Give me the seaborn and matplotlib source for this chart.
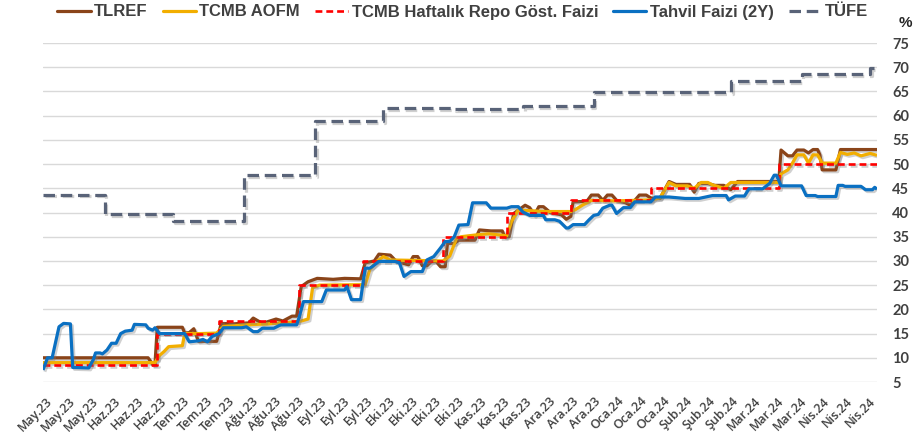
import pandas as pd
import matplotlib
matplotlib.use("Agg")
import matplotlib.pyplot as plt
import matplotlib.patheffects as pe
from matplotlib.lines import Line2D
from matplotlib.transforms import ScaledTranslation
import seaborn as sns

# ---- data -------------------------------------------------------------
tlref_dates = [
    "2023-05-04", "2023-06-19", "2023-06-21", "2023-06-22", "2023-06-23", "2023-07-04",
    "2023-07-05", "2023-07-07", "2023-07-09", "2023-07-11", "2023-07-19", "2023-07-21",
    "2023-07-26", "2023-08-02", "2023-08-04", "2023-08-08", "2023-08-14", "2023-08-17",
    "2023-08-21", "2023-08-23", "2023-08-25", "2023-08-28", "2023-09-01", "2023-09-08",
    "2023-09-13", "2023-09-20", "2023-09-22", "2023-09-26", "2023-09-28", "2023-10-03",
    "2023-10-05", "2023-10-08", "2023-10-11", "2023-10-13", "2023-10-15", "2023-10-17",
    "2023-10-19", "2023-10-21", "2023-10-23", "2023-10-25", "2023-10-27", "2023-10-28",
    "2023-10-31", "2023-11-02", "2023-11-09", "2023-11-11", "2023-11-16", "2023-11-21",
    "2023-11-22", "2023-11-24", "2023-11-26", "2023-12-01", "2023-12-03", "2023-12-05",
    "2023-12-07", "2023-12-09", "2023-12-12", "2023-12-17", "2023-12-19", "2023-12-21",
    "2023-12-22", "2023-12-28", "2023-12-30", "2024-01-02", "2024-01-04", "2024-01-06",
    "2024-01-08", "2024-01-10", "2024-01-14", "2024-01-16", "2024-01-18", "2024-01-20",
    "2024-01-23", "2024-01-25", "2024-01-29", "2024-02-02", "2024-02-05", "2024-02-11",
    "2024-02-13", "2024-02-15", "2024-02-19", "2024-02-22", "2024-02-26", "2024-02-29",
    "2024-03-03", "2024-03-21", "2024-03-22", "2024-03-25", "2024-03-27", "2024-03-29",
    "2024-04-01", "2024-04-03", "2024-04-05", "2024-04-07", "2024-04-08", "2024-04-09",
    "2024-04-15", "2024-04-17", "2024-05-03",
]
tlref_values = [
    10.0, 10.0, 8.6, 8.6, 16.3, 16.3,
    15.1, 15.2, 16.0, 13.4, 13.4, 17.1,
    17.0, 17.2, 18.2, 17.1, 18.0, 17.6,
    18.6, 18.6, 24.7, 25.7, 26.4, 26.2,
    26.4, 26.3, 29.6, 30.0, 31.4, 31.2,
    30.2, 29.6, 29.2, 30.9, 30.9, 29.0,
    29.0, 29.9, 29.9, 28.8, 28.8, 33.6,
    33.6, 34.3, 34.3, 36.4, 36.2, 36.2,
    35.0, 35.0, 39.8, 41.5, 41.0, 39.4,
    41.2, 41.2, 40.0, 39.5, 38.6, 39.2,
    42.2, 42.3, 43.6, 43.6, 42.5, 43.6,
    43.6, 42.5, 42.0, 41.5, 42.5, 43.6,
    43.6, 43.0, 42.9, 46.4, 45.8, 45.8,
    44.2, 46.0, 46.0, 45.6, 45.6, 44.7,
    46.4, 46.4, 52.9, 51.7, 51.7, 52.9,
    52.9, 52.3, 53.0, 53.0, 51.9, 48.8,
    48.8, 53.0, 53.0,
]

aofm_dates = [
    "2023-05-04", "2023-06-22", "2023-06-24", "2023-06-26", "2023-06-28", "2023-07-04",
    "2023-07-05", "2023-07-12", "2023-07-19", "2023-07-22", "2023-08-01", "2023-08-10",
    "2023-08-20", "2023-08-25", "2023-08-28", "2023-08-30", "2023-09-02", "2023-09-22",
    "2023-09-24", "2023-09-27", "2023-09-30", "2023-10-03", "2023-10-26", "2023-10-29",
    "2023-11-01", "2023-11-03", "2023-11-10", "2023-11-15", "2023-11-23", "2023-11-25",
    "2023-11-28", "2023-12-10", "2023-12-21", "2023-12-23", "2023-12-26", "2023-12-30",
    "2024-01-10", "2024-01-25", "2024-01-29", "2024-02-02", "2024-02-05", "2024-02-10",
    "2024-02-13", "2024-02-16", "2024-02-19", "2024-02-21", "2024-02-26", "2024-02-29",
    "2024-03-21", "2024-03-22", "2024-03-25", "2024-03-27", "2024-03-29", "2024-04-01",
    "2024-04-03", "2024-04-05", "2024-04-07", "2024-04-09", "2024-04-15", "2024-04-17",
    "2024-04-20", "2024-04-23", "2024-04-26", "2024-04-30", "2024-05-03",
]
aofm_values = [
    9.0, 9.0, 10.5, 11.3, 12.3, 12.5,
    15.0, 15.0, 15.1, 16.5, 16.8, 17.0,
    17.3, 17.6, 18.0, 24.5, 25.0, 25.1,
    28.2, 29.9, 30.9, 30.2, 30.0, 31.0,
    34.7, 35.0, 35.4, 35.6, 35.2, 38.1,
    40.5, 40.2, 40.2, 40.6, 41.5, 42.5,
    42.4, 42.6, 43.0, 46.2, 45.5, 45.5,
    45.0, 46.2, 46.2, 45.7, 45.0, 46.2,
    46.2, 48.0, 48.8, 50.2, 51.9, 51.9,
    50.2, 51.9, 51.9, 50.2, 50.2, 52.4,
    52.0, 52.3, 51.7, 52.2, 51.8,
]

repo_dates = [
    "2023-05-04", "2023-06-23", "2023-07-20", "2023-08-24", "2023-09-21", "2023-10-26",
    "2023-11-23", "2023-12-21", "2024-01-25", "2024-03-21", "2024-05-03",
]
repo_values = [8.5, 15.0, 17.5, 25.0, 30.0, 35.0, 40.0, 42.5, 45.0, 50.0, 50.0]

bond_dates = [
    "2023-05-04", "2023-05-06", "2023-05-08", "2023-05-11", "2023-05-13", "2023-05-16",
    "2023-05-17", "2023-05-24", "2023-05-26", "2023-05-27", "2023-05-29", "2023-05-30",
    "2023-06-01", "2023-06-03", "2023-06-05", "2023-06-07", "2023-06-09", "2023-06-12",
    "2023-06-13", "2023-06-18", "2023-06-19", "2023-06-21", "2023-06-22", "2023-06-24",
    "2023-07-05", "2023-07-07", "2023-07-11", "2023-07-13", "2023-07-15", "2023-07-17",
    "2023-07-20", "2023-07-22", "2023-07-30", "2023-08-01", "2023-08-04", "2023-08-06",
    "2023-08-08", "2023-08-13", "2023-08-16", "2023-08-23", "2023-08-24", "2023-08-26",
    "2023-09-03", "2023-09-05", "2023-09-13", "2023-09-14", "2023-09-16", "2023-09-20",
    "2023-09-22", "2023-09-24", "2023-09-25", "2023-09-28", "2023-10-05", "2023-10-07",
    "2023-10-09", "2023-10-12", "2023-10-17", "2023-10-19", "2023-10-22", "2023-10-25",
    "2023-10-27", "2023-10-29", "2023-10-31", "2023-11-02", "2023-11-06", "2023-11-08",
    "2023-11-14", "2023-11-16", "2023-11-23", "2023-11-25", "2023-11-28", "2023-11-30",
    "2023-12-03", "2023-12-09", "2023-12-10", "2023-12-14", "2023-12-16", "2023-12-19",
    "2023-12-20", "2023-12-22", "2023-12-27", "2023-12-29", "2023-12-31", "2024-01-02",
    "2024-01-04", "2024-01-07", "2024-01-08", "2024-01-10", "2024-01-13", "2024-01-16",
    "2024-01-18", "2024-01-25", "2024-01-27", "2024-02-02", "2024-02-09", "2024-02-15",
    "2024-02-21", "2024-02-27", "2024-02-28", "2024-03-02", "2024-03-06", "2024-03-08",
    "2024-03-14", "2024-03-17", "2024-03-19", "2024-03-20", "2024-03-22", "2024-03-31",
    "2024-04-02", "2024-04-06", "2024-04-07", "2024-04-15", "2024-04-16", "2024-04-18",
    "2024-04-19", "2024-04-26", "2024-04-28", "2024-05-01", "2024-05-02", "2024-05-03",
]
bond_values = [
    7.5, 10.0, 10.0, 16.4, 17.1, 17.0,
    8.0, 7.9, 9.6, 11.0, 11.0, 10.8,
    11.6, 13.0, 13.0, 15.0, 15.5, 15.7,
    16.9, 16.8, 16.1, 15.7, 16.2, 15.0,
    15.0, 13.3, 13.5, 13.8, 13.3, 14.4,
    15.0, 16.2, 16.2, 16.4, 15.4, 15.4,
    16.1, 16.1, 16.8, 16.8, 18.2, 21.6,
    21.6, 24.0, 24.0, 24.7, 22.0, 22.0,
    28.5, 28.5, 28.8, 29.9, 29.9, 29.6,
    26.8, 27.8, 27.8, 30.2, 30.9, 32.7,
    34.0, 34.0, 35.0, 37.4, 37.5, 42.0,
    42.0, 40.9, 40.9, 41.2, 41.2, 40.1,
    39.4, 39.4, 38.5, 38.5, 38.2, 36.8,
    36.8, 37.5, 37.5, 38.5, 39.4, 39.6,
    40.9, 41.5, 41.5, 39.8, 41.0, 41.0,
    42.2, 42.2, 43.2, 43.2, 42.9, 42.9,
    43.5, 43.5, 42.6, 43.4, 43.4, 44.9,
    44.9, 46.0, 47.7, 47.7, 45.5, 45.5,
    43.5, 43.5, 43.3, 43.3, 45.6, 45.6,
    45.4, 45.4, 44.7, 44.7, 45.2, 44.8,
]

cpi_dates = [
    "2023-05-04", "2023-05-31", "2023-06-30", "2023-07-31", "2023-08-31", "2023-09-30",
    "2023-10-31", "2023-11-30", "2023-12-31", "2024-01-31", "2024-02-29", "2024-03-31",
    "2024-04-30", "2024-05-03",
]
cpi_values = [43.7, 39.6, 38.2, 47.8, 58.9, 61.5, 61.4, 62.0, 64.8, 64.9, 67.1, 68.5, 69.8, 69.8]

tick_labels = [
    "May.23", "May.23", "May.23", "Haz.23", "Haz.23", "Haz.23", "Tem.23", "Tem.23",
    "Tem.23", "Ağu.23", "Ağu.23", "Ağu.23", "Eyl.23", "Eyl.23", "Eyl.23", "Eki.23",
    "Eki.23", "Eki.23", "Eki.23", "Kas.23", "Kas.23", "Kas.23", "Ara.23", "Ara.23",
    "Ara.23", "Oca.24", "Oca.24", "Oca.24", "Şub.24", "Şub.24", "Şub.24", "Mar.24",
    "Mar.24", "Mar.24", "Nis.24", "Nis.24", "Nis.24",
]
first_tick = "2023-05-04"
tick_step_days = 10

series = [
    # label, dates, values, colour, width, dashes, step
    ("TLREF", tlref_dates, tlref_values, "#8A4419", 2.3, None, False),
    ("TCMB AOFM", aofm_dates, aofm_values, "#F2AE00", 2.3, None, False),
    ("TCMB Haftalık Repo Göst. Faizi", repo_dates, repo_values, "#FF0000", 1.9, (2.6, 1.5), True),
    ("Tahvil Faizi (2Y)", bond_dates, bond_values, "#0A70C2", 2.3, None, False),
    ("TÜFE", cpi_dates, cpi_values, "#596378", 2.3, (3.6, 1.8), True),
]

# ---- figure -----------------------------------------------------------
sns.set_theme(style="white")
plt.rcParams["font.family"] = ["Liberation Sans", "DejaVu Sans"]

W, H = 924, 442
fig = plt.figure(figsize=(W / 100, H / 100), dpi=100)
ax = fig.add_axes([43 / W, 1 - 382 / H, (877 - 43) / W, (382 - 43) / H])

shadow = [pe.SimpleLineShadow(offset=(1.3, -1.3), shadow_color="#7a7a7a", alpha=0.35), pe.Normal()]

handles = []
for label, d, v, color, lw, dashes, step in series:
    kw = dict(color=color, linewidth=lw)
    if step:
        kw["drawstyle"] = "steps-post"
    sns.lineplot(x=pd.to_datetime(d), y=v, ax=ax, legend=False, **kw)
    line = ax.lines[-1]
    if dashes is not None:
        line.set_dashes(dashes)
    line.set_path_effects(shadow)
    line.set_solid_capstyle("butt")
    h = Line2D([], [], color=color, linewidth=lw)
    if dashes is not None:
        h.set_dashes(dashes)
    handles.append(h)

# axes limits and grid
ax.set_xlim(pd.Timestamp("2023-05-04"), pd.Timestamp("2024-05-03"))
ax.set_ylim(5, 75)
ax.set_yticks(range(5, 80, 5))
ax.yaxis.tick_right()
ax.grid(axis="y", color="#D9D9D9", linewidth=1.0)
ax.grid(axis="x", visible=False)
for s in ax.spines.values():
    s.set_visible(False)
ax.set_xlabel("")
ax.set_ylabel("")

ax.tick_params(axis="y", length=0, pad=11)
for t in ax.get_yticklabels():
    t.set_fontfamily(["Lato", "DejaVu Sans"])
    t.set_fontweight("bold")
    t.set_fontsize(10.5)
    t.set_color("#404040")

tick_dates = pd.date_range(first_tick, periods=len(tick_labels), freq=f"{tick_step_days}D")
ax.set_xticks(tick_dates)
ax.set_xticklabels(tick_labels, rotation=45, ha="right", va="top", rotation_mode="anchor")
ax.tick_params(axis="x", length=0, pad=9)
shift = ScaledTranslation(3 / 100, 0, fig.dpi_scale_trans)
for t in ax.get_xticklabels():
    t.set_fontfamily(["Open Sans", "DejaVu Sans"])
    t.set_fontweight("semibold")
    t.set_fontsize(9)
    t.set_color("#404040")
    t.set_transform(t.get_transform() + shift)

fig.text(905 / W, 1 - 23 / H, "%", ha="center", va="center",
         fontsize=11, fontweight="bold", color="#262626")

fig.legend(handles, [s[0] for s in series], loc="center",
           bbox_to_anchor=(463 / W, 1 - 12 / H), ncol=5, frameon=False,
           prop={"family": "Liberation Sans", "weight": "bold", "size": 12},
           handlelength=2.0, handletextpad=0.2, columnspacing=0.9,
           labelcolor="#404040")

fig.savefig("out.png", dpi=100)
